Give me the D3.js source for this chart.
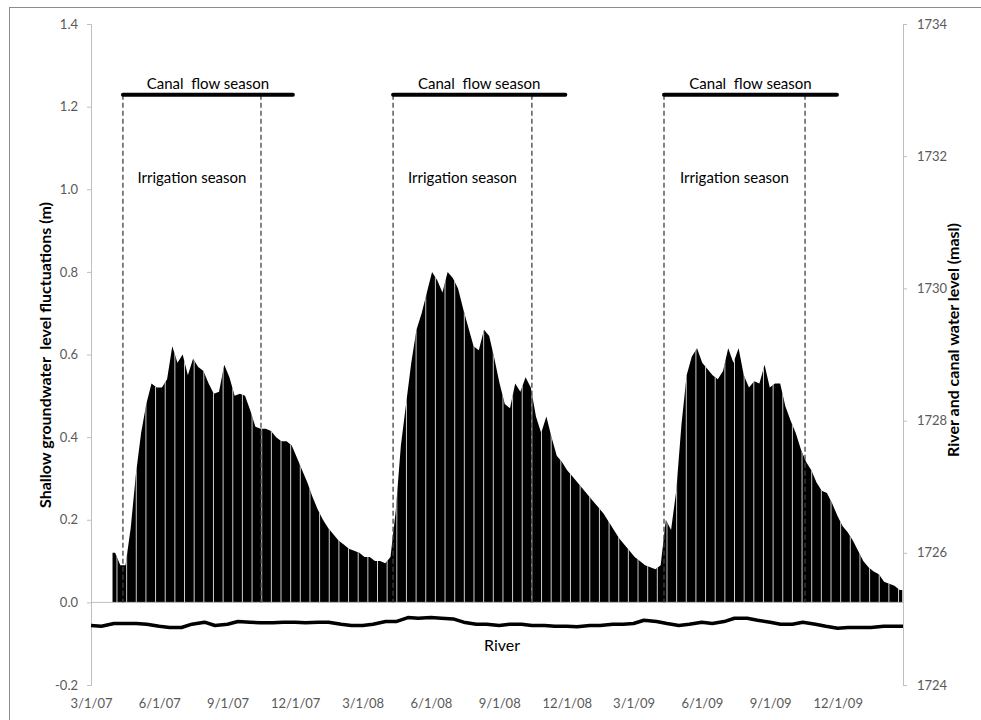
<!DOCTYPE html>
<html>
<head>
  <meta charset="UTF-8">
  <title>Groundwater fluctuations</title>
  <script src="https://d3js.org/d3.v7.min.js"></script>
  <style>
    body { margin: 0; background: #fff; }
    text { font-family: Lato, "Open Sans", sans-serif; }
  </style>
</head>
<body>
  <svg></svg>
</body>
<script>
  let width = 981,
    height = 720;

  // weekly shallow groundwater level fluctuation (m), first week starts 3/30/07
  let gwStart = "2007-03-30";
  let gwLevel = [
    0.12, 0.09, 0.09, 0.18, 0.31, 0.41, 0.48, 0.53, 0.52, 0.52,
    0.54, 0.62, 0.58, 0.60, 0.55, 0.59, 0.57, 0.56, 0.53, 0.505,
    0.51, 0.575, 0.545, 0.50, 0.505, 0.50, 0.465, 0.425, 0.42, 0.42,
    0.415, 0.40, 0.39, 0.39, 0.38, 0.35, 0.32, 0.29, 0.255, 0.225,
    0.20, 0.18, 0.165, 0.15, 0.14, 0.13, 0.125, 0.12, 0.11, 0.11,
    0.10, 0.10, 0.095, 0.11, 0.22, 0.38, 0.48, 0.58, 0.66, 0.70,
    0.75, 0.80, 0.78, 0.75, 0.80, 0.785, 0.76, 0.71, 0.665, 0.62,
    0.61, 0.66, 0.645, 0.59, 0.53, 0.48, 0.47, 0.53, 0.51, 0.545,
    0.52, 0.45, 0.41, 0.45, 0.40, 0.355, 0.34, 0.32, 0.305, 0.29,
    0.275, 0.26, 0.245, 0.23, 0.215, 0.195, 0.175, 0.155, 0.14, 0.125,
    0.11, 0.10, 0.09, 0.085, 0.08, 0.09, 0.20, 0.175, 0.27, 0.43,
    0.55, 0.595, 0.615, 0.58, 0.565, 0.55, 0.54, 0.56, 0.615, 0.58,
    0.615, 0.55, 0.52, 0.535, 0.53, 0.575, 0.52, 0.53, 0.53, 0.475,
    0.44, 0.41, 0.37, 0.34, 0.32, 0.29, 0.27, 0.265, 0.24, 0.21,
    0.185, 0.17, 0.15, 0.125, 0.10, 0.085, 0.075, 0.068, 0.05, 0.045,
    0.04, 0.03
  ];

  // river water level (masl)
  let riverDates = [
    "2007-03-01", "2007-03-15", "2007-04-01", "2007-04-15", "2007-05-01", "2007-05-15",
    "2007-06-01", "2007-06-15", "2007-07-01", "2007-07-15", "2007-08-01", "2007-08-15",
    "2007-09-01", "2007-09-15", "2007-10-01", "2007-10-15", "2007-11-01", "2007-11-15",
    "2007-12-01", "2007-12-15", "2008-01-01", "2008-01-15", "2008-02-01", "2008-02-15",
    "2008-03-01", "2008-03-15", "2008-04-01", "2008-04-15", "2008-05-01", "2008-05-15",
    "2008-06-01", "2008-06-15", "2008-07-01", "2008-07-15", "2008-08-01", "2008-08-15",
    "2008-09-01", "2008-09-15", "2008-10-01", "2008-10-15", "2008-11-01", "2008-11-15",
    "2008-12-01", "2008-12-15", "2009-01-01", "2009-01-15", "2009-02-01", "2009-02-15",
    "2009-03-01", "2009-03-15", "2009-04-01", "2009-04-15", "2009-05-01", "2009-05-15",
    "2009-06-01", "2009-06-15", "2009-07-01", "2009-07-15", "2009-08-01", "2009-08-15",
    "2009-09-01", "2009-09-15", "2009-10-01", "2009-10-15", "2009-11-01", "2009-11-15",
    "2009-12-01", "2009-12-15", "2010-01-01", "2010-01-15", "2010-02-01", "2010-02-27"
  ];
  let riverLevel = [
    1724.90, 1724.89, 1724.93, 1724.93, 1724.93, 1724.92,
    1724.89, 1724.87, 1724.87, 1724.92, 1724.95, 1724.90,
    1724.92, 1724.96, 1724.95, 1724.94, 1724.94, 1724.95,
    1724.95, 1724.94, 1724.95, 1724.95, 1724.92, 1724.90,
    1724.90, 1724.92, 1724.96, 1724.96, 1725.02, 1725.01,
    1725.02, 1725.01, 1725.00, 1724.95, 1724.92, 1724.92,
    1724.90, 1724.92, 1724.92, 1724.90, 1724.90, 1724.89,
    1724.89, 1724.88, 1724.90, 1724.90, 1724.92, 1724.92,
    1724.93, 1724.98, 1724.96, 1724.93, 1724.90, 1724.92,
    1724.95, 1724.93, 1724.96, 1725.01, 1725.01, 1724.98,
    1724.95, 1724.92, 1724.92, 1724.95, 1724.92, 1724.89,
    1724.86, 1724.87, 1724.87, 1724.87, 1724.89, 1724.89
  ];

  // seasons
  let irrigStart = ["2007-04-13", "2008-04-11", "2009-04-11"];
  let irrigEnd = ["2007-10-16", "2008-10-15", "2009-10-18"];
  let canalEnd = ["2007-11-28", "2008-11-29", "2009-11-30"];
  let canalLevel = 1732.93;

  // ticks
  let leftTicks = [-0.2, 0, 0.2, 0.4, 0.6, 0.8, 1.0, 1.2, 1.4];
  let rightTicks = [1724, 1726, 1728, 1730, 1732, 1734];
  let xTickLabels = ["3/1/07", "6/1/07", "9/1/07", "12/1/07", "3/1/08", "6/1/08",
    "9/1/08", "12/1/08", "3/1/09", "6/1/09", "9/1/09", "12/1/09"];

  let parse = d3.timeParse("%Y-%m-%d");
  let parseTick = d3.timeParse("%m/%d/%y");

  let svg = d3.select("svg")
    .attr("width", width)
    .attr("height", height);

  // outer chart frame
  svg.append("rect")
    .attr("x", 9.5).attr("y", 7.5)
    .attr("width", 1000).attr("height", 1000)
    .attr("fill", "none")
    .attr("stroke", "#8c8c8c");

  let x = d3.scaleTime()
    .domain([parse("2007-03-01"), parse("2010-02-27")])
    .range([91, 903]);
  let yL = d3.scaleLinear().domain([-0.2, 1.4]).range([685, 24]);
  let yR = d3.scaleLinear().domain([1724, 1734]).range([685, 24]);

  // groundwater weekly values, drawn as a filled profile (week centres, straight edges at both ends)
  let gw = gwLevel.map((v, i) => ({ date: d3.timeHour.offset(parse(gwStart), i * 168 + 84), v: v }));
  let gwShape = [{ date: parse(gwStart), v: gwLevel[0] }]
    .concat(gw)
    .concat([{ date: d3.timeDay.offset(parse(gwStart), gwLevel.length * 7), v: gwLevel[gwLevel.length - 1] }]);

  let area = d3.area()
    .x(d => x(d.date))
    .y0(yL(0))
    .y1(d => yL(d.v));

  svg.append("clipPath").attr("id", "gwclip")
    .append("path").attr("d", area(gwShape));

  svg.append("path")
    .attr("d", area(gwShape))
    .attr("fill", "#000");

  // light column seams seen inside the filled columns
  let seams = d3.timeDay.range(parse("2007-03-10"), parse("2010-02-27"), 13);
  svg.append("g")
    .attr("clip-path", "url(#gwclip)")
    .selectAll("line")
    .data(seams)
    .enter()
    .append("line")
    .attr("x1", d => x(d)).attr("x2", d => x(d))
    .attr("y1", yL(1.4)).attr("y2", yL(0))
    .attr("stroke", "#fff")
    .attr("stroke-opacity", 0.8)
    .attr("stroke-width", 1);

  // zero line
  svg.append("line")
    .attr("x1", x.range()[0]).attr("x2", x.range()[1])
    .attr("y1", yL(0)).attr("y2", yL(0))
    .attr("stroke", "#bfbfbf");

  // axes
  let leftAxis = svg.append("g")
    .attr("transform", "translate(91,0)")
    .call(d3.axisLeft(yL).tickValues(leftTicks).tickSize(4).tickPadding(9)
      .tickFormat(d => d.toFixed(1)));

  let rightAxis = svg.append("g")
    .attr("transform", "translate(903,0)")
    .call(d3.axisRight(yR).tickValues(rightTicks).tickSize(4).tickPadding(10)
      .tickFormat(d3.format("d")));

  let bottomAxis = svg.append("g")
    .attr("transform", "translate(0,685)")
    .call(d3.axisBottom(x).tickValues(xTickLabels.map(parseTick)).tickSize(0).tickPadding(14)
      .tickFormat(d => (d.getMonth() + 1) + "/" + d.getDate() + "/" + d3.timeFormat("%y")(d)));
  bottomAxis.select(".domain").remove();

  [leftAxis, rightAxis, bottomAxis].forEach(g => {
    g.selectAll(".domain").attr("stroke", "#bfbfbf");
    g.selectAll(".tick line").attr("stroke", "#bfbfbf");
    g.selectAll(".tick text")
      .attr("fill", "#595959")
      .style("font-size", "13px")
      .style("font-family", "Lato, 'Open Sans', sans-serif");
  });

  // river line
  let river = riverDates.map((d, i) => ({ date: parse(d), v: riverLevel[i] }));
  svg.append("path")
    .datum(river)
    .attr("fill", "none")
    .attr("stroke", "#000")
    .attr("stroke-width", 3.5)
    .attr("stroke-linejoin", "round")
    .attr("d", d3.line().x(d => x(d.date)).y(d => yR(d.v)));

  svg.append("text")
    .attr("x", 502).attr("y", 651)
    .attr("text-anchor", "middle")
    .style("font-size", "16px")
    .text("River");

  // season markers
  let seasons = irrigStart.map((d, i) => ({
    start: parse(d), end: parse(irrigEnd[i]), canal: parse(canalEnd[i])
  }));

  let sg = svg.append("g").selectAll("g")
    .data(seasons)
    .enter()
    .append("g");

  sg.selectAll("line.dash")
    .data(d => [d.start, d.end])
    .enter()
    .append("line")
    .attr("x1", d => x(d)).attr("x2", d => x(d))
    .attr("y1", yR(canalLevel)).attr("y2", yL(0))
    .attr("stroke", "#404040")
    .attr("stroke-width", 1.3)
    .attr("stroke-dasharray", "5,3");

  sg.append("line")
    .attr("x1", d => x(d.start)).attr("x2", d => x(d.canal))
    .attr("y1", yR(canalLevel)).attr("y2", yR(canalLevel))
    .attr("stroke", "#000")
    .attr("stroke-width", 4)
    .attr("stroke-linecap", "round");

  sg.append("text")
    .attr("x", d => (x(d.start) + x(d.canal)) / 2)
    .attr("y", yR(canalLevel) - 6)
    .attr("text-anchor", "middle")
    .style("font-size", "15px")
    .style("white-space", "pre")
    .text("Canal  flow season");

  sg.append("text")
    .attr("x", d => (x(d.start) + x(d.end)) / 2)
    .attr("y", yL(1.015))
    .attr("text-anchor", "middle")
    .style("font-size", "15px")
    .text("Irrigation season");

  // axis titles
  svg.append("text")
    .attr("transform", "translate(45,355) rotate(-90)")
    .attr("text-anchor", "middle")
    .attr("dy", "0.35em")
    .style("font-size", "16px")
    .style("font-weight", "bold")
    .style("white-space", "pre")
    .text("Shallow groundwater  level fluctuations (m)");

  svg.append("text")
    .attr("transform", "translate(953,340) rotate(-90)")
    .attr("text-anchor", "middle")
    .attr("dy", "0.35em")
    .style("font-size", "16px")
    .style("font-weight", "bold")
    .text("River and canal water level (masl)");
</script>
</html>
